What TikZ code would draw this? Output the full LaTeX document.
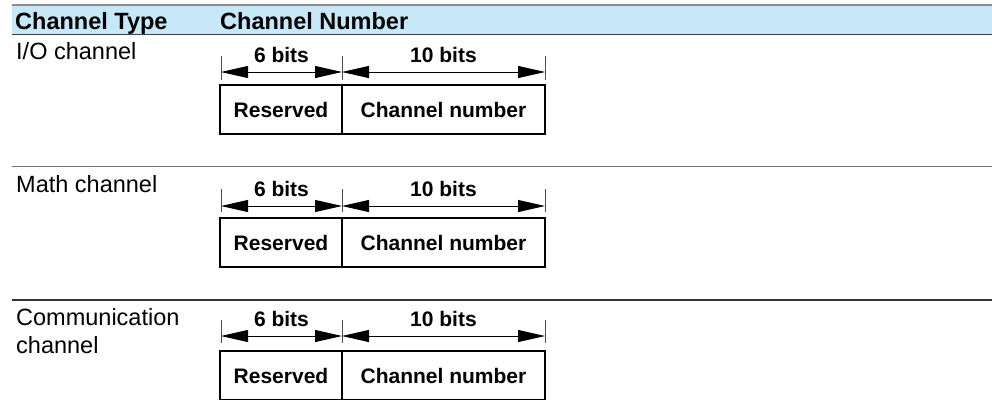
\documentclass[tikz,border=0pt]{standalone}
\usepackage{fontspec}
\setmainfont{Liberation Sans}
\usepackage{tikz}
\usetikzlibrary{positioning}
\usetikzlibrary{arrows.meta}
\definecolor{headblue}{HTML}{C6E8F8}

\begin{document}
\begin{tikzpicture}[x=1pt,y=-1pt]
% Table style
\tikzset{
    typetext/.style={anchor=base west, inner sep=0pt, align=left, font={\fontsize{23.5}{28}\selectfont}},
    headtext/.style={typetext, font={\fontsize{23.5}{28}\selectfont\bfseries}},
    field/.style={minimum height=49pt, inner sep=0pt, outer sep=0pt, font={\fontsize{21}{25}\selectfont\bfseries}},
    bits/.style={midway, yshift=17.5pt, inner sep=0pt, font={\fontsize{21}{25}\selectfont\bfseries}},
    dim/.style={{Triangle[length=27pt,width=12pt]}-{Triangle[length=27pt,width=12pt]}, line width=0.9pt},
    tick/.style={line width=0.9pt, black!70},
    frame/.style={line width=2pt},
    divider/.style={line width=1.3pt}
}
\useasboundingbox (0,0) rectangle (992,399);
% Header
\fill[headblue] (12,5) rectangle (992,35);
\draw[black!45, line width=1.2pt] (12,5) -- (992,5);
\draw[black!75, line width=1.5pt] (12,34.5) -- (992,34.5);
\node[headtext] (typeHead) at (15,29) {Channel Type};
\node[headtext] (numHead) at (220,29) {Channel Number};
% Row separators
\draw[black!55, line width=1.2pt] (12,166.5) -- (992,166.5);
\draw[black!80, line width=1.2pt] (12,300) -- (992,300);
% I/O channel
\node[typetext] (ioType) at (16,59) {I/O channel};
\node[field, minimum width=122pt] (ioRes) at (281,109.5) {Reserved};
\node[field, minimum width=203pt, right=0pt of ioRes] (ioNum) {Channel number};
\draw[frame] (ioRes.north west) rectangle (ioNum.south east);
\draw[divider] (ioRes.north east) -- (ioRes.south east);
\coordinate (ioL) at (221,72);
\coordinate (ioM) at (342,72);
\coordinate (ioR) at (545,72);
\draw[tick] ([yshift=16pt]ioL) -- ([yshift=-8pt]ioL);
\draw[tick] ([yshift=16pt]ioM) -- ([yshift=-8pt]ioM);
\draw[tick] ([yshift=16pt]ioR) -- ([yshift=-8pt]ioR);
\draw[dim] (ioL) -- (ioM) node[bits] (ioSix) {6 bits};
\draw[dim] (ioM) -- (ioR) node[bits] (ioTen) {10 bits};
% Math channel
\node[typetext] (mathType) at (16,192) {Math channel};
\node[field, minimum width=122pt] (mathRes) at (281,242.5) {Reserved};
\node[field, minimum width=203pt, right=0pt of mathRes] (mathNum) {Channel number};
\draw[frame] (mathRes.north west) rectangle (mathNum.south east);
\draw[divider] (mathRes.north east) -- (mathRes.south east);
\coordinate (mathL) at (221,206);
\coordinate (mathM) at (342,206);
\coordinate (mathR) at (545,206);
\draw[tick] ([yshift=17pt]mathL) -- ([yshift=-6pt]mathL);
\draw[tick] ([yshift=17pt]mathM) -- ([yshift=-6pt]mathM);
\draw[tick] ([yshift=17pt]mathR) -- ([yshift=-6pt]mathR);
\draw[dim] (mathL) -- (mathM) node[bits] (mathSix) {6 bits};
\draw[dim] (mathM) -- (mathR) node[bits] (mathTen) {10 bits};
% Communication channel
\node[typetext] (comType) at (16,353) {Communication\\channel};
\node[field, minimum width=122pt] (comRes) at (281,375.5) {Reserved};
\node[field, minimum width=203pt, right=0pt of comRes] (comNum) {Channel number};
\draw[frame] (comRes.north west) rectangle (comNum.south east);
\draw[divider] (comRes.north east) -- (comRes.south east);
\coordinate (comL) at (221,336);
\coordinate (comM) at (342,336);
\coordinate (comR) at (545,336);
\draw[tick] ([yshift=16pt]comL) -- ([yshift=-7pt]comL);
\draw[tick] ([yshift=16pt]comM) -- ([yshift=-7pt]comM);
\draw[tick] ([yshift=16pt]comR) -- ([yshift=-7pt]comR);
\draw[dim] (comL) -- (comM) node[bits] (comSix) {6 bits};
\draw[dim] (comM) -- (comR) node[bits] (comTen) {10 bits};
\end{tikzpicture}
\end{document}
